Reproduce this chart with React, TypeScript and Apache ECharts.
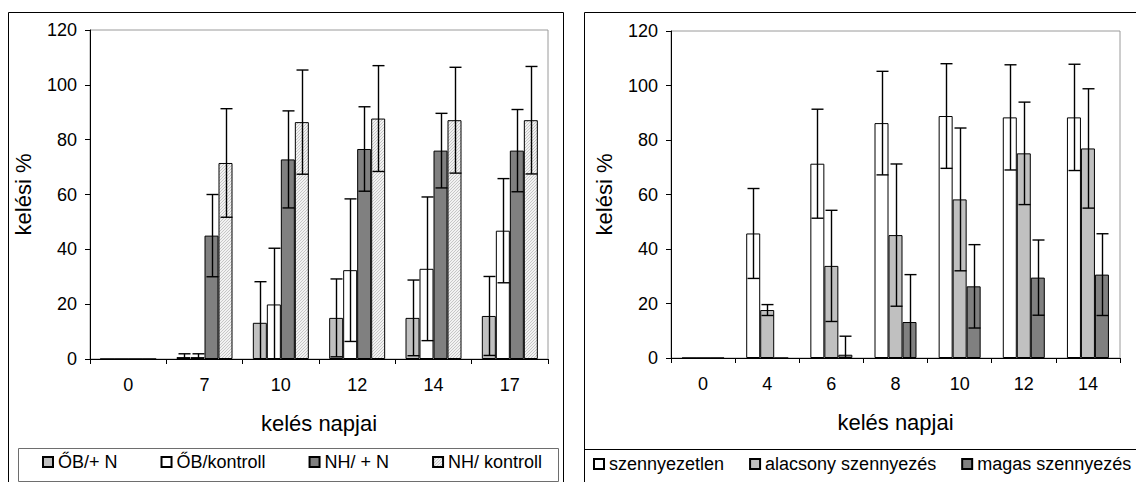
import React, { useEffect, useRef } from "react";
import * as echarts from "echarts";

// ---------- data: left chart ----------
const catsL = ["0", "7", "10", "12", "14", "17"];
const namesL = ["ŐB/+ N", "ŐB/kontroll", "NH/ + N", "NH/ kontroll"];
const obN = [0, 0.7, 13.2, 15, 15, 15.7];
const obNErr = [0, 1.2, 15, 14.2, 13.8, 14.4];
const obK = [0, 0.7, 19.9, 32.4, 32.9, 46.8];
const obKErr = [0, 1.2, 20.5, 26, 26.2, 19];
const nhN = [0, 45, 72.8, 76.6, 76, 76];
const nhNErr = [0, 15, 17.7, 15.4, 13.6, 15];
const nhK = [0, 71.5, 86.4, 87.7, 87.1, 87.1];
const nhKErr = [0, 19.8, 19, 19.3, 19.3, 19.6];

// ---------- data: right chart ----------
const catsR = ["0", "4", "6", "8", "10", "12", "14"];
const namesR = ["szennyezetlen", "alacsony szennyezés", "magas szennyezés"];
const szen = [0, 45.7, 71.3, 86.2, 88.8, 88.3, 88.3];
const szenErr = [0, 16.5, 20, 19, 19.2, 19.3, 19.5];
const alac = [0, 17.6, 33.8, 45.1, 58.2, 75.1, 76.9];
const alacErr = [0, 2, 20.4, 26.1, 26.2, 18.8, 21.9];
const magas = [0, 0, 1.2, 13.2, 26.3, 29.5, 30.6];
const magasErr = [0, 0, 6.8, 17.4, 15.3, 13.8, 15];

const FONT = "Liberation Sans";
const BAR_W = 14;

function makePattern() {
  const c = document.createElement("canvas");
  c.width = 3;
  c.height = 3;
  const ctx = c.getContext("2d");
  if (ctx) {
    ctx.fillStyle = "#f2f2f2";
    ctx.fillRect(0, 0, 3, 3);
    ctx.fillStyle = "#c6c6c6";
    ctx.fillRect(0, 0, 1, 1);
    ctx.fillRect(2, 1, 1, 1);
    ctx.fillRect(1, 2, 1, 1);
  }
  return c;
}

function barSeries(name: string, data: number[], color: any, axis: number) {
  return {
    type: "bar",
    name,
    xAxisIndex: axis,
    yAxisIndex: axis,
    data,
    barWidth: BAR_W,
    barGap: "0%",
    itemStyle: { color, borderColor: "#000", borderWidth: 1 },
    z: 2,
  };
}

function errSeries(vals: number[], errs: number[], offset: number, axis: number) {
  return {
    type: "custom",
    xAxisIndex: axis,
    yAxisIndex: axis,
    silent: true,
    z: 5,
    data: vals.map((v, i) => [i, v, errs[i]]),
    renderItem: (params: any, api: any) => {
      const i = api.value(0);
      const m = api.value(1);
      const e = api.value(2);
      if (!e) return null;
      const cx = Math.round(api.coord([i, m])[0] + offset) + 0.5;
      const yTop = api.coord([i, m + e])[1];
      const lo = Math.max(0, m - e);
      const yBot = api.coord([i, lo])[1];
      const half = 6;
      const style = { stroke: "#000", lineWidth: 1.4 };
      const children: any[] = [
        { type: "line", shape: { x1: cx, y1: yTop, x2: cx, y2: yBot }, style },
        { type: "line", shape: { x1: cx - half, y1: yTop, x2: cx + half, y2: yTop }, style },
      ];
      if (m - e > 0.3) {
        children.push({ type: "line", shape: { x1: cx - half, y1: yBot, x2: cx + half, y2: yBot }, style });
      }
      return { type: "group", children };
    },
  };
}

function xAxisCfg(cats: string[], grid: number) {
  return {
    type: "category",
    gridIndex: grid,
    data: cats,
    name: "kelés napjai",
    nameLocation: "middle",
    nameGap: 53,
    nameTextStyle: { fontFamily: FONT, fontSize: 22, color: "#000" },
    axisLine: { lineStyle: { color: "#000", width: 1 } },
    axisTick: { show: true, length: 5, lineStyle: { color: "#000" } },
    axisLabel: { fontFamily: FONT, fontSize: 18, color: "#000", margin: 17 },
    splitLine: { show: false },
  };
}

function yAxisCfg(grid: number) {
  return {
    type: "value",
    gridIndex: grid,
    min: 0,
    max: 120,
    interval: 20,
    name: "kelési %",
    nameLocation: "middle",
    nameGap: 56,
    nameTextStyle: { fontFamily: FONT, fontSize: 22, color: "#000" },
    axisLine: { show: true, lineStyle: { color: "#000", width: 1 } },
    axisTick: { show: true, length: 5, lineStyle: { color: "#000" } },
    axisLabel: { fontFamily: FONT, fontSize: 18, color: "#000", margin: 13 },
    splitLine: { show: false },
  };
}

export default function App() {
  const ref = useRef<HTMLDivElement>(null);

  useEffect(() => {
    if (!ref.current) return;
    const chart = echarts.init(ref.current, null, { renderer: "svg" });
    const pattern = { image: makePattern(), repeat: "repeat" };

    const offL = [-1.5, -0.5, 0.5, 1.5].map((k) => k * BAR_W);
    const offR = [-1, 0, 1].map((k) => k * BAR_W);

    const option: any = {
      animation: false,
      backgroundColor: "#fff",
      grid: [
        { left: 90, right: 588, top: 30, bottom: 123, show: true, borderColor: "#9a9a9a", borderWidth: 1, backgroundColor: "transparent" },
        { left: 671, right: 16, top: 31, bottom: 124, show: true, borderColor: "#9a9a9a", borderWidth: 1, backgroundColor: "transparent" },
      ],
      xAxis: [xAxisCfg(catsL, 0), xAxisCfg(catsR, 1)],
      yAxis: [yAxisCfg(0), yAxisCfg(1)],
      legend: [
        {
          data: namesL,
          left: 42,
          top: 453,
          padding: 0,
          itemGap: 43,
          itemWidth: 10,
          itemHeight: 10,
          icon: "rect",
          selectedMode: false,
          textStyle: { fontFamily: FONT, fontSize: 18, color: "#000" },
        },
        {
          data: namesR,
          left: 593,
          top: 455,
          padding: 0,
          itemGap: 25,
          itemWidth: 10,
          itemHeight: 10,
          icon: "rect",
          selectedMode: false,
          textStyle: { fontFamily: FONT, fontSize: 18, color: "#000" },
        },
      ],
      graphic: [
        { type: "rect", shape: { x: 8.5, y: 12.5, width: 555, height: 500 }, style: { fill: "none", stroke: "#000", lineWidth: 1 }, silent: true, z: -1 },
        { type: "rect", shape: { x: 18.5, y: 448.5, width: 540, height: 33 }, style: { fill: "none", stroke: "#6e6e6e", lineWidth: 1 }, silent: true, z: -1 },
        { type: "rect", shape: { x: 584.5, y: 12.5, width: 600, height: 500 }, style: { fill: "none", stroke: "#000", lineWidth: 1 }, silent: true, z: -1 },
        { type: "line", shape: { x1: 584, y1: 449.5, x2: 1136, y2: 449.5 }, style: { stroke: "#000", lineWidth: 1 }, silent: true, z: -1 },
      ],
      series: [
        barSeries(namesL[0], obN, "#c0c0c0", 0),
        barSeries(namesL[1], obK, "#ffffff", 0),
        barSeries(namesL[2], nhN, "#808080", 0),
        barSeries(namesL[3], nhK, pattern, 0),
        errSeries(obN, obNErr, offL[0], 0),
        errSeries(obK, obKErr, offL[1], 0),
        errSeries(nhN, nhNErr, offL[2], 0),
        errSeries(nhK, nhKErr, offL[3], 0),
        barSeries(namesR[0], szen, "#ffffff", 1),
        barSeries(namesR[1], alac, "#c0c0c0", 1),
        barSeries(namesR[2], magas, "#808080", 1),
        errSeries(szen, szenErr, offR[0], 1),
        errSeries(alac, alacErr, offR[1], 1),
        errSeries(magas, magasErr, offR[2], 1),
      ],
    };
    chart.setOption(option);
    return () => chart.dispose();
  }, []);

  return (
    <div
      ref={ref}
      style={{ position: "fixed", left: 0, top: 0, width: 1136, height: 482, background: "#fff" }}
    />
  );
}
